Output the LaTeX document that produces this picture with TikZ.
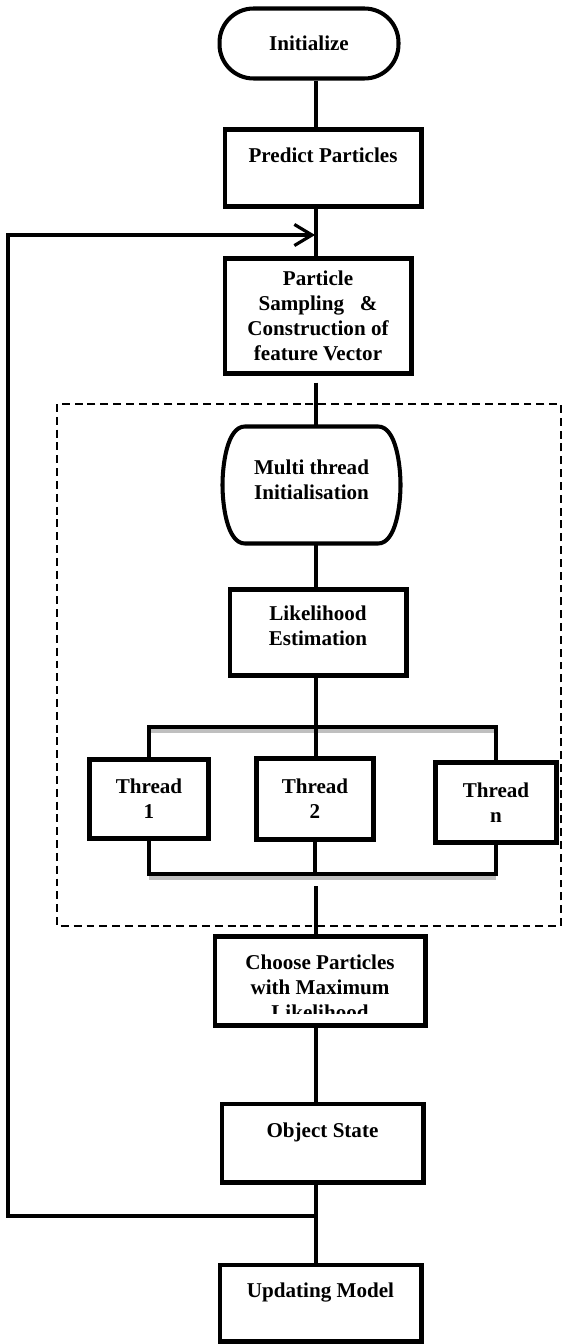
\documentclass[tikz,border=0pt]{standalone}
\usepackage{fontspec}
\setmainfont{Liberation Serif}
\usetikzlibrary{arrows.meta}
\tikzset{
	procBox/.style={draw=black, line width=2.3pt, fill=white, align=center, inner sep=2pt,
		font=\fontsize{12}{14.2}\selectfont\bfseries},
	termBox/.style={procBox, rounded corners=#1},
	plainText/.style={align=center, inner sep=0pt, font=\fontsize{12}{14.2}\selectfont\bfseries},
	link/.style={line width=2.3pt},
	feedback/.style={line width=1.8pt, -{Straight Barb[length=10pt, width=12pt, line width=1.8pt]}},
	busShadow/.style={line width=2pt, gray!50},
	threadFrame/.style={line width=0.9pt, dash pattern=on 4.5pt off 2.8pt}
}

\begin{document}
\begin{tikzpicture}[x=0.02cm, y=-0.02cm]
\useasboundingbox (0,0) rectangle (565,1344);
\coordinate (spine) at (316,0);
% dashed frame round the threads
\draw[threadFrame] (57,404) rectangle (561,926);
% boxes
\node[termBox=0.68cm, minimum width=3.58cm, minimum height=1.40cm] (init) at (309,43.5) {Initialize};
\node[procBox, minimum width=3.94cm, minimum height=1.54cm] (predict) at (323,168) {Predict Particles\\ \mbox{}};
\node[procBox, minimum width=3.74cm, minimum height=2.30cm] (sampling) at (318,316) {Particle\\Sampling\ \ \ \&\\Construction of\\feature Vector};
\node[procBox, draw=none, minimum width=3.48cm, minimum height=2.26cm] (multi) at (311.5,485) {Multi thread\\Initialisation\\[-8pt]\mbox{}};
\draw[link, looseness=0.75] ([xshift=0.45cm]multi.north west) -- ([xshift=-0.45cm]multi.north east)
	to[out=0, in=90] (multi.east) to[out=-90, in=0] ([xshift=-0.45cm]multi.south east)
	-- ([xshift=0.45cm]multi.south west) to[out=180, in=-90] (multi.west)
	to[out=90, in=180] ([xshift=0.45cm]multi.north west) -- cycle;
\node[procBox, minimum width=3.54cm, minimum height=1.72cm] (like) at (318,632.5) {Likelihood\\Estimation\\[-6.4pt]\mbox{}};
\node[procBox, minimum width=2.38cm, minimum height=1.58cm] (thr1) at (149,799) {Thread\\1};
\node[procBox, minimum width=2.34cm, minimum height=1.62cm] (thr2) at (315,799) {Thread\\2};
\node[procBox, minimum width=2.42cm, minimum height=1.60cm] (thrn) at (496,802.5) {Thread\\n};
\node[procBox, minimum width=4.22cm, minimum height=1.78cm] (choose) at (320,981) {};
\begin{scope}
	\clip (213,935) rectangle (427,1013);
	\node[plainText] (chooseText) at ([yshift=-0.12cm]choose) {Choose Particles\\with Maximum\\Likelihood};
\end{scope}
\node[procBox, minimum width=4.04cm, minimum height=1.58cm] (state) at (322.5,1143) {Object State\\ \mbox{}};
\node[procBox, minimum width=4.04cm, minimum height=1.54cm] (update) at (320.5,1303) {Updating Model\\ \mbox{}};

% buses
\coordinate (busTop) at (316,727);
\coordinate (busTopShade) at (318,731);
\coordinate (busBot) at (316,874);
\coordinate (busBotShade) at (318,878);
\draw[busShadow] (thr1.north |- busTopShade) -- (thrn.north |- busTopShade);
\draw[busShadow] (thr1.south |- busBotShade) -- (thrn.south |- busBotShade);
\draw[link] (thr1.north) -- (thr1.north |- busTop) -- (thrn.north |- busTop) -- (thrn.north);
\draw[link] (thr1.south) -- (thr1.south |- busBot) -- (thrn.south |- busBot) -- (thrn.south);
\draw[link] (thr2.south) -- (thr2.south |- busBot);

% main flow
\draw[link] (init.south -| spine) -- (predict.north -| spine);
\draw[link] (predict.south -| spine) -- (sampling.north -| spine);
\draw[link, shorten <=4pt] (sampling.south -| spine) -- (multi.north -| spine);
\draw[link] (multi.south -| spine) -- (like.north -| spine);
\draw[link] (like.south -| spine) -- (thr2.north -| spine);
\draw[link, shorten <=7pt] (busBot -| spine) -- (choose.north -| spine);
\draw[link] (choose.south -| spine) -- (state.north -| spine);
\draw[link] (state.south -| spine) -- (update.north -| spine);

% loop back
\coordinate (fbOut) at (316,1216);
\coordinate (loopBottom) at (8,1216);
\coordinate (loopTop) at (8,235);
\coordinate (loopIn) at (315,235);
\draw[feedback] (fbOut) -- (loopBottom) -- (loopTop) -- (loopIn);
\end{tikzpicture}
\end{document}
